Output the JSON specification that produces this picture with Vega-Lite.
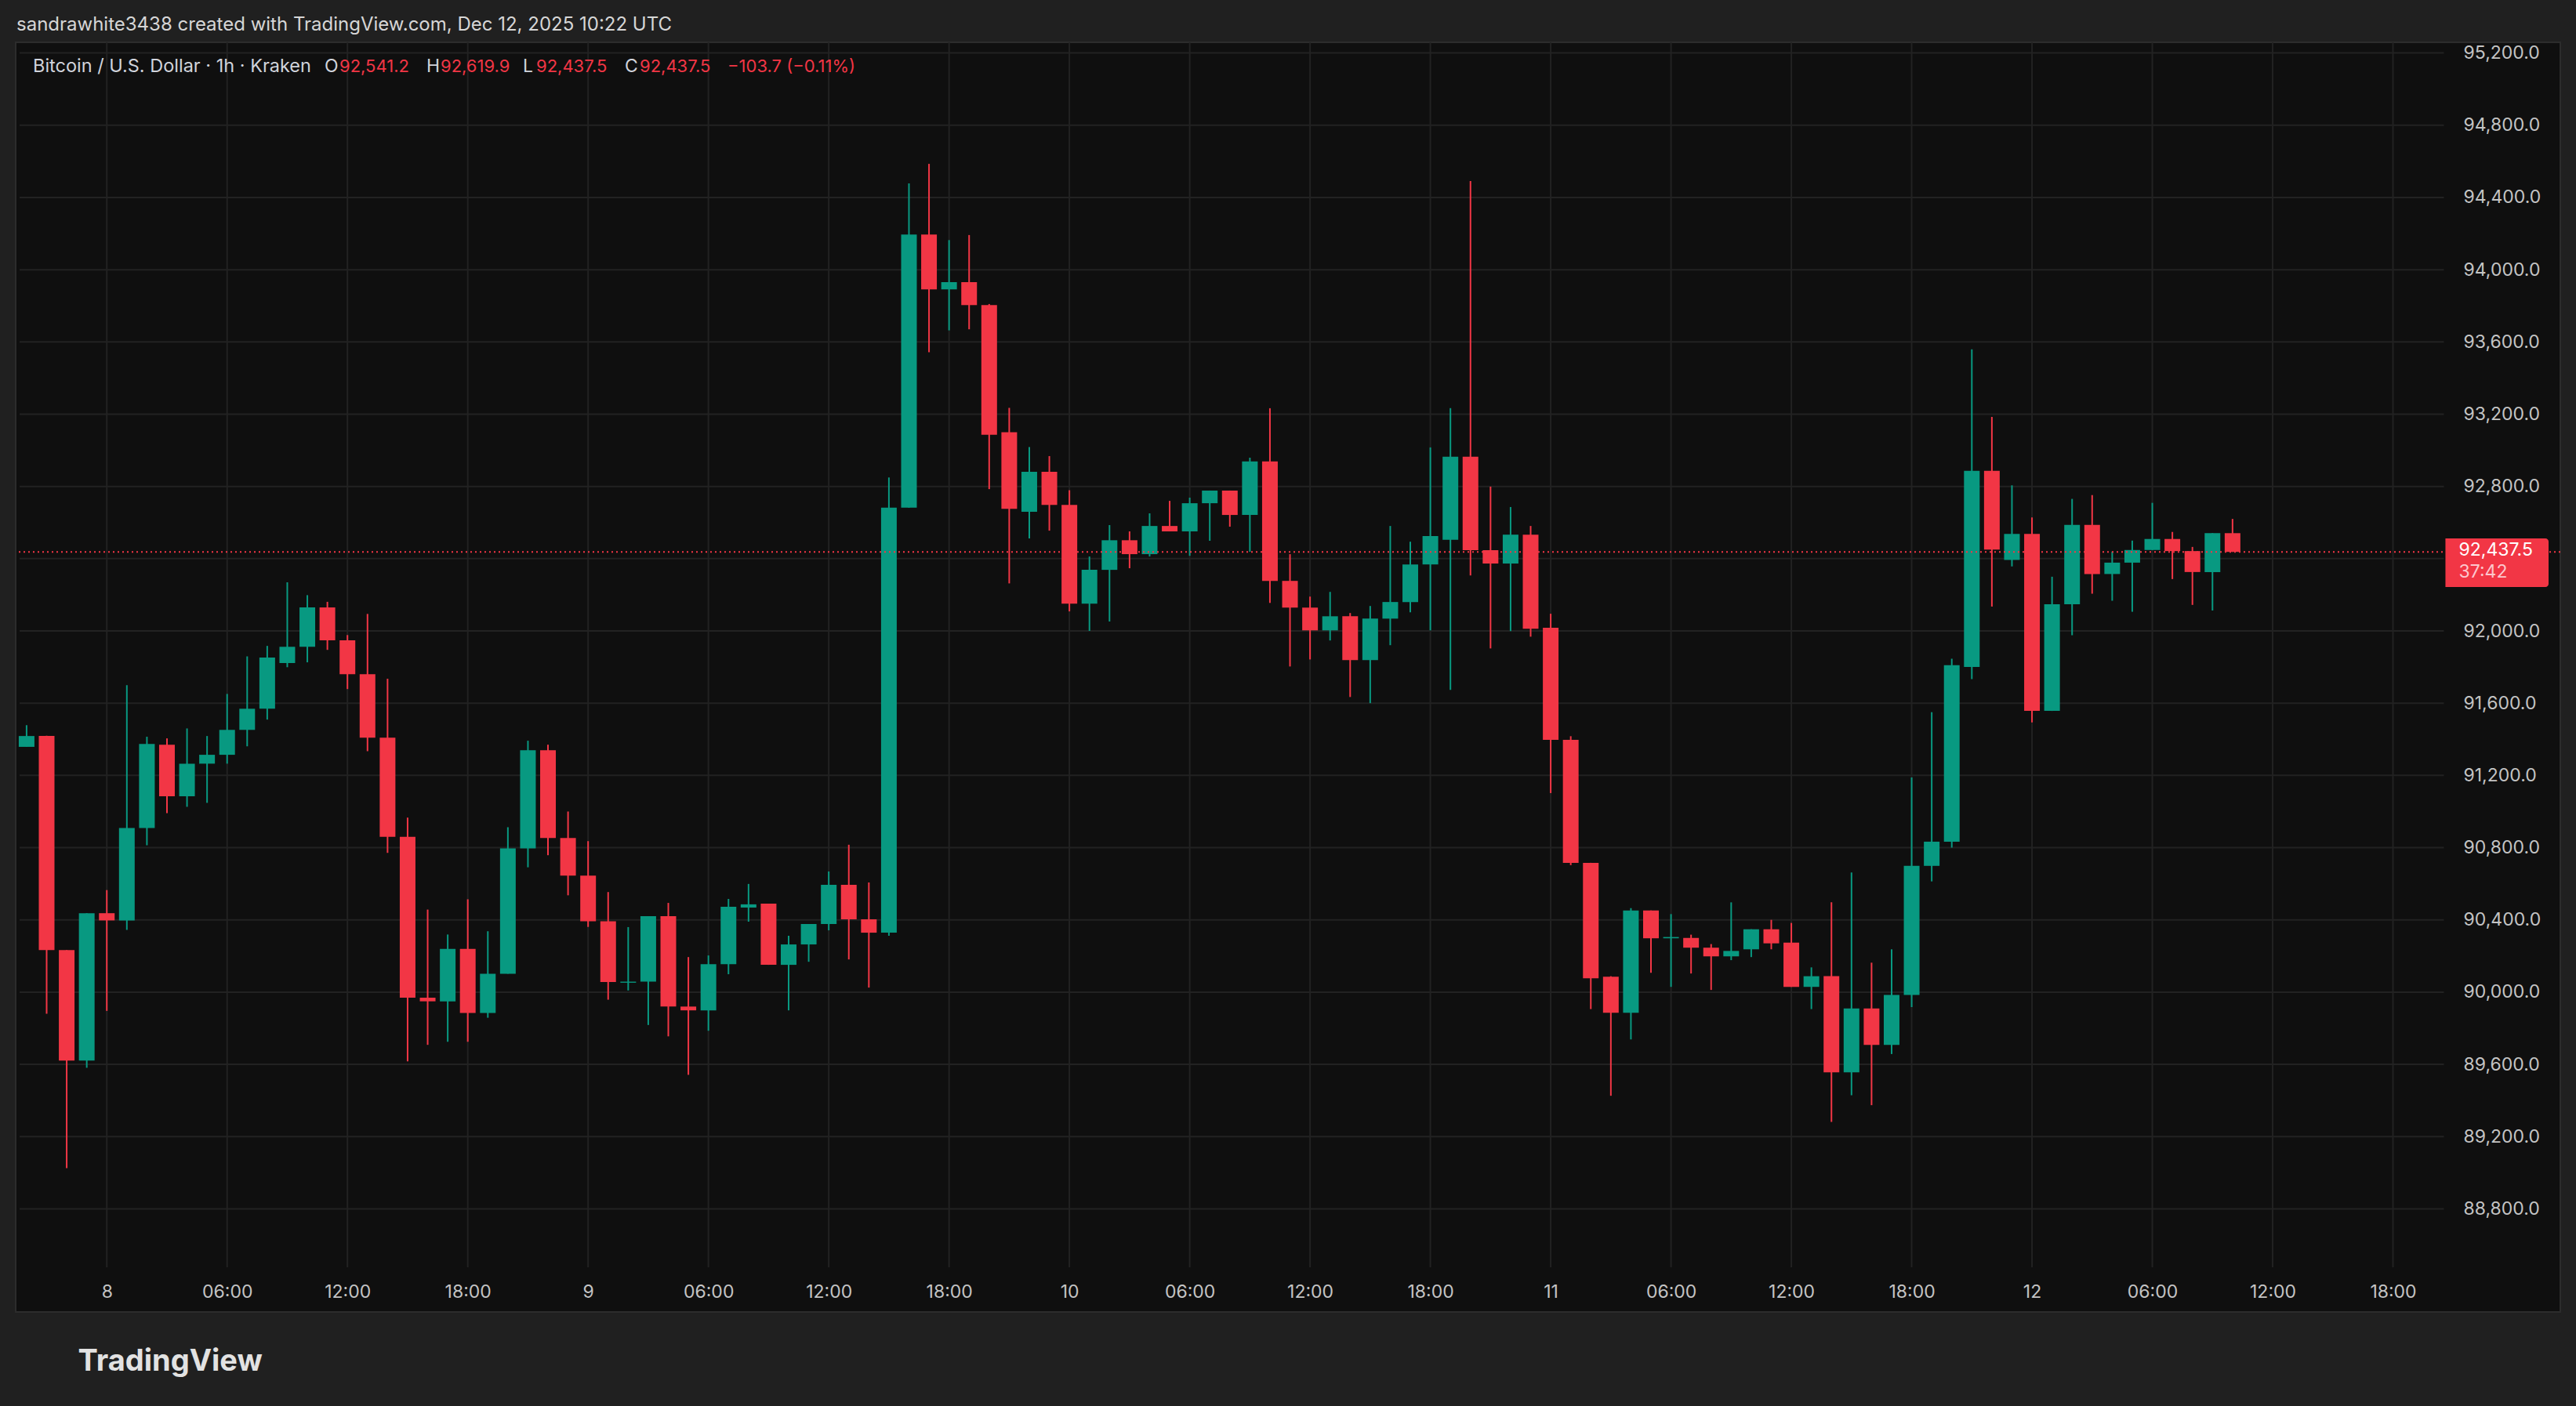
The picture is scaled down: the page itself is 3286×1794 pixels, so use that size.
{
  "$schema": "https://vega.github.io/schema/vega-lite/v6.json",
  "width": 3246,
  "height": 1620,
  "autosize": "none",
  "padding": {"left": 20, "top": 54, "right": 20, "bottom": 120},
  "background": "#202020",
  "title": {
    "text": "sandrawhite3438 created with TradingView.com, Dec 12, 2025 10:22 UTC",
    "anchor": "start",
    "frame": "group",
    "orient": "top",
    "offset": -3,
    "dx": 1,
    "font": "Inter",
    "fontSize": 24,
    "fontWeight": "normal",
    "color": "#d6d6d6",
    "baseline": "middle"
  },
  "config": {
    "view": {"fill": "#0f0f0f", "stroke": "#2c2c2c", "strokeWidth": 2},
    "text": {"font": "Inter"}
  },
  "datasets": {
    "candles": [
      {"t": "2025-12-07T20:00:00Z", "open": 91358, "high": 91478, "low": 91358, "close": 91418},
      {"t": "2025-12-07T21:00:00Z", "open": 91418, "high": 91420, "low": 89880, "close": 90233},
      {"t": "2025-12-07T22:00:00Z", "open": 90233, "high": 90233, "low": 89025, "close": 89621},
      {"t": "2025-12-07T23:00:00Z", "open": 89621, "high": 90437, "low": 89581, "close": 90437},
      {"t": "2025-12-08T00:00:00Z", "open": 90437, "high": 90565, "low": 89896, "close": 90397},
      {"t": "2025-12-08T01:00:00Z", "open": 90397, "high": 91700, "low": 90344, "close": 90909},
      {"t": "2025-12-08T02:00:00Z", "open": 90909, "high": 91414, "low": 90813, "close": 91374},
      {"t": "2025-12-08T03:00:00Z", "open": 91370, "high": 91405, "low": 90991, "close": 91084},
      {"t": "2025-12-08T04:00:00Z", "open": 91084, "high": 91460, "low": 91026, "close": 91265},
      {"t": "2025-12-08T05:00:00Z", "open": 91265, "high": 91418, "low": 91048, "close": 91314},
      {"t": "2025-12-08T06:00:00Z", "open": 91314, "high": 91651, "low": 91265, "close": 91452},
      {"t": "2025-12-08T07:00:00Z", "open": 91452, "high": 91859, "low": 91361, "close": 91569},
      {"t": "2025-12-08T08:00:00Z", "open": 91569, "high": 91917, "low": 91509, "close": 91853},
      {"t": "2025-12-08T09:00:00Z", "open": 91822, "high": 92269, "low": 91799, "close": 91912},
      {"t": "2025-12-08T10:00:00Z", "open": 91912, "high": 92198, "low": 91826, "close": 92130},
      {"t": "2025-12-08T11:00:00Z", "open": 92130, "high": 92161, "low": 91895, "close": 91948},
      {"t": "2025-12-08T12:00:00Z", "open": 91948, "high": 91977, "low": 91678, "close": 91760},
      {"t": "2025-12-08T13:00:00Z", "open": 91760, "high": 92094, "low": 91334, "close": 91409},
      {"t": "2025-12-08T14:00:00Z", "open": 91409, "high": 91735, "low": 90771, "close": 90860},
      {"t": "2025-12-08T15:00:00Z", "open": 90860, "high": 90966, "low": 89617, "close": 89969},
      {"t": "2025-12-08T16:00:00Z", "open": 89969, "high": 90457, "low": 89708, "close": 89949},
      {"t": "2025-12-08T17:00:00Z", "open": 89949, "high": 90319, "low": 89725, "close": 90239},
      {"t": "2025-12-08T18:00:00Z", "open": 90239, "high": 90514, "low": 89725, "close": 89885},
      {"t": "2025-12-08T19:00:00Z", "open": 89885, "high": 90337, "low": 89858, "close": 90102},
      {"t": "2025-12-08T20:00:00Z", "open": 90102, "high": 90913, "low": 90102, "close": 90796},
      {"t": "2025-12-08T21:00:00Z", "open": 90796, "high": 91392, "low": 90691, "close": 91339},
      {"t": "2025-12-08T22:00:00Z", "open": 91339, "high": 91370, "low": 90758, "close": 90853},
      {"t": "2025-12-08T23:00:00Z", "open": 90853, "high": 91000, "low": 90536, "close": 90645},
      {"t": "2025-12-09T00:00:00Z", "open": 90645, "high": 90836, "low": 90361, "close": 90392},
      {"t": "2025-12-09T01:00:00Z", "open": 90392, "high": 90554, "low": 89958, "close": 90056},
      {"t": "2025-12-09T02:00:00Z", "open": 90052, "high": 90360, "low": 90009, "close": 90058},
      {"t": "2025-12-09T03:00:00Z", "open": 90058, "high": 90420, "low": 89818, "close": 90420},
      {"t": "2025-12-09T04:00:00Z", "open": 90420, "high": 90494, "low": 89755, "close": 89920},
      {"t": "2025-12-09T05:00:00Z", "open": 89920, "high": 90194, "low": 89542, "close": 89899},
      {"t": "2025-12-09T06:00:00Z", "open": 89899, "high": 90203, "low": 89786, "close": 90155},
      {"t": "2025-12-09T07:00:00Z", "open": 90155, "high": 90516, "low": 90099, "close": 90473},
      {"t": "2025-12-09T08:00:00Z", "open": 90468, "high": 90599, "low": 90390, "close": 90486},
      {"t": "2025-12-09T09:00:00Z", "open": 90490, "high": 90490, "low": 90151, "close": 90151},
      {"t": "2025-12-09T10:00:00Z", "open": 90151, "high": 90312, "low": 89899, "close": 90264},
      {"t": "2025-12-09T11:00:00Z", "open": 90264, "high": 90377, "low": 90168, "close": 90377},
      {"t": "2025-12-09T12:00:00Z", "open": 90377, "high": 90668, "low": 90342, "close": 90594},
      {"t": "2025-12-09T13:00:00Z", "open": 90594, "high": 90816, "low": 90181, "close": 90403},
      {"t": "2025-12-09T14:00:00Z", "open": 90403, "high": 90607, "low": 90025, "close": 90329},
      {"t": "2025-12-09T15:00:00Z", "open": 90329, "high": 92850, "low": 90312, "close": 92682},
      {"t": "2025-12-09T16:00:00Z", "open": 92682, "high": 94478, "low": 92682, "close": 94195},
      {"t": "2025-12-09T17:00:00Z", "open": 94195, "high": 94586, "low": 93543, "close": 93891},
      {"t": "2025-12-09T18:00:00Z", "open": 93891, "high": 94164, "low": 93664, "close": 93931},
      {"t": "2025-12-09T19:00:00Z", "open": 93931, "high": 94192, "low": 93670, "close": 93804},
      {"t": "2025-12-09T20:00:00Z", "open": 93804, "high": 93810, "low": 92785, "close": 93086},
      {"t": "2025-12-09T21:00:00Z", "open": 93100, "high": 93235, "low": 92263, "close": 92676},
      {"t": "2025-12-09T22:00:00Z", "open": 92660, "high": 93018, "low": 92512, "close": 92881},
      {"t": "2025-12-09T23:00:00Z", "open": 92881, "high": 92968, "low": 92555, "close": 92698},
      {"t": "2025-12-10T00:00:00Z", "open": 92698, "high": 92779, "low": 92108, "close": 92151},
      {"t": "2025-12-10T01:00:00Z", "open": 92151, "high": 92412, "low": 92000, "close": 92338},
      {"t": "2025-12-10T02:00:00Z", "open": 92338, "high": 92586, "low": 92052, "close": 92502},
      {"t": "2025-12-10T03:00:00Z", "open": 92502, "high": 92551, "low": 92347, "close": 92425},
      {"t": "2025-12-10T04:00:00Z", "open": 92425, "high": 92651, "low": 92412, "close": 92581},
      {"t": "2025-12-10T05:00:00Z", "open": 92581, "high": 92720, "low": 92551, "close": 92551},
      {"t": "2025-12-10T06:00:00Z", "open": 92551, "high": 92738, "low": 92416, "close": 92707},
      {"t": "2025-12-10T07:00:00Z", "open": 92707, "high": 92777, "low": 92499, "close": 92777},
      {"t": "2025-12-10T08:00:00Z", "open": 92777, "high": 92777, "low": 92577, "close": 92642},
      {"t": "2025-12-10T09:00:00Z", "open": 92642, "high": 92959, "low": 92438, "close": 92938},
      {"t": "2025-12-10T10:00:00Z", "open": 92938, "high": 93233, "low": 92155, "close": 92277},
      {"t": "2025-12-10T11:00:00Z", "open": 92277, "high": 92425, "low": 91803, "close": 92129},
      {"t": "2025-12-10T12:00:00Z", "open": 92129, "high": 92190, "low": 91842, "close": 92003},
      {"t": "2025-12-10T13:00:00Z", "open": 92003, "high": 92216, "low": 91947, "close": 92081},
      {"t": "2025-12-10T14:00:00Z", "open": 92081, "high": 92099, "low": 91634, "close": 91838},
      {"t": "2025-12-10T15:00:00Z", "open": 91838, "high": 92138, "low": 91600, "close": 92068},
      {"t": "2025-12-10T16:00:00Z", "open": 92068, "high": 92581, "low": 91921, "close": 92160},
      {"t": "2025-12-10T17:00:00Z", "open": 92160, "high": 92494, "low": 92103, "close": 92368},
      {"t": "2025-12-10T18:00:00Z", "open": 92368, "high": 93016, "low": 92003, "close": 92525},
      {"t": "2025-12-10T19:00:00Z", "open": 92505, "high": 93233, "low": 91673, "close": 92964},
      {"t": "2025-12-10T20:00:00Z", "open": 92964, "high": 94491, "low": 92307, "close": 92447},
      {"t": "2025-12-10T21:00:00Z", "open": 92447, "high": 92799, "low": 91903, "close": 92373},
      {"t": "2025-12-10T22:00:00Z", "open": 92373, "high": 92686, "low": 91999, "close": 92533},
      {"t": "2025-12-10T23:00:00Z", "open": 92533, "high": 92581, "low": 91968, "close": 92012},
      {"t": "2025-12-11T00:00:00Z", "open": 92017, "high": 92095, "low": 91102, "close": 91397},
      {"t": "2025-12-11T01:00:00Z", "open": 91397, "high": 91417, "low": 90703, "close": 90716},
      {"t": "2025-12-11T02:00:00Z", "open": 90716, "high": 90716, "low": 89906, "close": 90077},
      {"t": "2025-12-11T03:00:00Z", "open": 90085, "high": 90088, "low": 89426, "close": 89886},
      {"t": "2025-12-11T04:00:00Z", "open": 89886, "high": 90465, "low": 89738, "close": 90452},
      {"t": "2025-12-11T05:00:00Z", "open": 90452, "high": 90452, "low": 90107, "close": 90298},
      {"t": "2025-12-11T06:00:00Z", "open": 90298, "high": 90432, "low": 90029, "close": 90305},
      {"t": "2025-12-11T07:00:00Z", "open": 90300, "high": 90318, "low": 90103, "close": 90246},
      {"t": "2025-12-11T08:00:00Z", "open": 90246, "high": 90266, "low": 90012, "close": 90198},
      {"t": "2025-12-11T09:00:00Z", "open": 90198, "high": 90497, "low": 90177, "close": 90228},
      {"t": "2025-12-11T10:00:00Z", "open": 90237, "high": 90348, "low": 90194, "close": 90348},
      {"t": "2025-12-11T11:00:00Z", "open": 90348, "high": 90400, "low": 90237, "close": 90270},
      {"t": "2025-12-11T12:00:00Z", "open": 90274, "high": 90383, "low": 90029, "close": 90029},
      {"t": "2025-12-11T13:00:00Z", "open": 90029, "high": 90137, "low": 89906, "close": 90088},
      {"t": "2025-12-11T14:00:00Z", "open": 90088, "high": 90497, "low": 89281, "close": 89556},
      {"t": "2025-12-11T15:00:00Z", "open": 89556, "high": 90662, "low": 89429, "close": 89910},
      {"t": "2025-12-11T16:00:00Z", "open": 89910, "high": 90163, "low": 89374, "close": 89708},
      {"t": "2025-12-11T17:00:00Z", "open": 89708, "high": 90237, "low": 89657, "close": 89984},
      {"t": "2025-12-11T18:00:00Z", "open": 89984, "high": 91189, "low": 89917, "close": 90699},
      {"t": "2025-12-11T19:00:00Z", "open": 90699, "high": 91550, "low": 90613, "close": 90833},
      {"t": "2025-12-11T20:00:00Z", "open": 90833, "high": 91846, "low": 90800, "close": 91810},
      {"t": "2025-12-11T21:00:00Z", "open": 91800, "high": 93559, "low": 91733, "close": 92886},
      {"t": "2025-12-11T22:00:00Z", "open": 92886, "high": 93185, "low": 92135, "close": 92450},
      {"t": "2025-12-11T23:00:00Z", "open": 92393, "high": 92806, "low": 92357, "close": 92537},
      {"t": "2025-12-12T00:00:00Z", "open": 92537, "high": 92628, "low": 91493, "close": 91557},
      {"t": "2025-12-12T01:00:00Z", "open": 91557, "high": 92300, "low": 91557, "close": 92148},
      {"t": "2025-12-12T02:00:00Z", "open": 92148, "high": 92731, "low": 91976, "close": 92587},
      {"t": "2025-12-12T03:00:00Z", "open": 92587, "high": 92752, "low": 92206, "close": 92315},
      {"t": "2025-12-12T04:00:00Z", "open": 92315, "high": 92439, "low": 92167, "close": 92378},
      {"t": "2025-12-12T05:00:00Z", "open": 92378, "high": 92500, "low": 92106, "close": 92448},
      {"t": "2025-12-12T06:00:00Z", "open": 92448, "high": 92709, "low": 92448, "close": 92509},
      {"t": "2025-12-12T07:00:00Z", "open": 92509, "high": 92548, "low": 92287, "close": 92442},
      {"t": "2025-12-12T08:00:00Z", "open": 92442, "high": 92465, "low": 92144, "close": 92326},
      {"t": "2025-12-12T09:00:00Z", "open": 92326, "high": 92541.2, "low": 92113, "close": 92541.2},
      {"t": "2025-12-12T10:00:00Z", "open": 92541.2, "high": 92619.9, "low": 92437.5, "close": 92437.5}
    ],
    "vgrid": [
      {"t": "2025-12-08T00:00:00Z"}, {"t": "2025-12-08T06:00:00Z"}, {"t": "2025-12-08T12:00:00Z"}, {"t": "2025-12-08T18:00:00Z"},
      {"t": "2025-12-09T00:00:00Z"}, {"t": "2025-12-09T06:00:00Z"}, {"t": "2025-12-09T12:00:00Z"}, {"t": "2025-12-09T18:00:00Z"},
      {"t": "2025-12-10T00:00:00Z"}, {"t": "2025-12-10T06:00:00Z"}, {"t": "2025-12-10T12:00:00Z"}, {"t": "2025-12-10T18:00:00Z"},
      {"t": "2025-12-11T00:00:00Z"}, {"t": "2025-12-11T06:00:00Z"}, {"t": "2025-12-11T12:00:00Z"}, {"t": "2025-12-11T18:00:00Z"},
      {"t": "2025-12-12T00:00:00Z"}, {"t": "2025-12-12T06:00:00Z"}, {"t": "2025-12-12T12:00:00Z"}, {"t": "2025-12-12T18:00:00Z"}
    ],
    "hgrid": [
      {"p": 88800}, {"p": 89200}, {"p": 89600}, {"p": 90000}, {"p": 90400}, {"p": 90800}, {"p": 91200}, {"p": 91600},
      {"p": 92000}, {"p": 92400}, {"p": 92800}, {"p": 93200}, {"p": 93600}, {"p": 94000}, {"p": 94400}, {"p": 94800}, {"p": 95200}
    ]
  },
  "layer": [
    {
      "data": {"name": "vgrid"},
      "mark": {"type": "rule", "color": "#222222", "strokeWidth": 2},
      "encoding": {
        "x": {
          "field": "t",
          "type": "temporal",
          "scale": {
            "type": "utc",
            "domain": [
              {"year": 2025, "month": 12, "date": 7, "hours": 19, "minutes": 39, "seconds": 6, "utc": true},
              {"year": 2025, "month": 12, "date": 13, "hours": 2, "minutes": 9, "utc": true}
            ]
          },
          "axis": {
            "orient": "bottom",
            "offset": -57,
            "values": [
              {"year": 2025, "month": 12, "date": 8, "hours": 0, "utc": true},
              {"year": 2025, "month": 12, "date": 8, "hours": 6, "utc": true},
              {"year": 2025, "month": 12, "date": 8, "hours": 12, "utc": true},
              {"year": 2025, "month": 12, "date": 8, "hours": 18, "utc": true},
              {"year": 2025, "month": 12, "date": 9, "hours": 0, "utc": true},
              {"year": 2025, "month": 12, "date": 9, "hours": 6, "utc": true},
              {"year": 2025, "month": 12, "date": 9, "hours": 12, "utc": true},
              {"year": 2025, "month": 12, "date": 9, "hours": 18, "utc": true},
              {"year": 2025, "month": 12, "date": 10, "hours": 0, "utc": true},
              {"year": 2025, "month": 12, "date": 10, "hours": 6, "utc": true},
              {"year": 2025, "month": 12, "date": 10, "hours": 12, "utc": true},
              {"year": 2025, "month": 12, "date": 10, "hours": 18, "utc": true},
              {"year": 2025, "month": 12, "date": 11, "hours": 0, "utc": true},
              {"year": 2025, "month": 12, "date": 11, "hours": 6, "utc": true},
              {"year": 2025, "month": 12, "date": 11, "hours": 12, "utc": true},
              {"year": 2025, "month": 12, "date": 11, "hours": 18, "utc": true},
              {"year": 2025, "month": 12, "date": 12, "hours": 0, "utc": true},
              {"year": 2025, "month": 12, "date": 12, "hours": 6, "utc": true},
              {"year": 2025, "month": 12, "date": 12, "hours": 12, "utc": true},
              {"year": 2025, "month": 12, "date": 12, "hours": 18, "utc": true}
            ],
            "labelExpr": "utchours(datum.value) == 0 ? '' + utcdate(datum.value) : utcFormat(datum.value, '%H:%M')",
            "grid": false,
            "domain": false,
            "ticks": false,
            "tickSize": 0,
            "labelPadding": 31,
            "labelBaseline": "middle",
            "labelFont": "Inter",
            "labelFontSize": 23,
            "labelColor": "#c4c4c4",
            "labelFlush": false,
            "labelOverlap": false,
            "title": "TradingView",
            "titleFont": "Inter",
            "titleFontSize": 38,
            "titleFontWeight": "bold",
            "titleColor": "#e2e2e2",
            "titleAlign": "left",
            "titleBaseline": "middle",
            "titleX": 79,
            "titleY": 120
          }
        },
        "y": {"datum": 95259, "type": "quantitative",
          "scale": {"domain": [88229, 95259], "nice": false, "zero": false},
          "axis": {
            "orient": "right",
            "offset": -144,
            "values": [88800, 89200, 89600, 90000, 90400, 90800, 91200, 91600, 92000, 92800, 93200, 93600, 94000, 94400, 94800, 95200],
            "format": ",.1f",
            "grid": false,
            "domain": false,
            "ticks": false,
            "tickSize": 0,
            "labelPadding": 20,
            "labelFont": "Inter",
            "labelFontSize": 23,
            "labelColor": "#c4c4c4",
            "labelOverlap": false,
            "labelFlush": false,
            "title": null
          }
        },
        "y2": {"datum": 88476}
      }
    },
    {
      "data": {"name": "hgrid"},
      "mark": {"type": "rule", "color": "#222222", "strokeWidth": 2},
      "encoding": {
        "y": {"field": "p", "type": "quantitative"},
        "x": {"datum": {"year": 2025, "month": 12, "date": 7, "hours": 19, "minutes": 39, "seconds": 6, "utc": true}, "type": "temporal"},
        "x2": {"datum": {"year": 2025, "month": 12, "date": 12, "hours": 20, "minutes": 32, "seconds": 24, "utc": true}}
      }
    },
    {
      "data": {"name": "candles"},
      "mark": {"type": "rule", "strokeWidth": 2},
      "encoding": {
        "x": {"field": "t", "type": "temporal"},
        "y": {"field": "low", "type": "quantitative"},
        "y2": {"field": "high"},
        "color": {"condition": {"test": "datum.close >= datum.open", "value": "#089981"}, "value": "#f23645"}
      }
    },
    {
      "data": {"name": "candles"},
      "mark": {"type": "bar", "width": 20},
      "encoding": {
        "x": {"field": "t", "type": "temporal"},
        "y": {"field": "open", "type": "quantitative"},
        "y2": {"field": "close"},
        "color": {"condition": {"test": "datum.close >= datum.open", "value": "#089981"}, "value": "#f23645"}
      }
    },
    {
      "data": {"name": "candles"},
      "transform": [{"filter": "datum.open == 92541.2"}],
      "layer": [
        {
          "mark": {"type": "rule", "color": "#f23645", "strokeWidth": 2, "strokeDash": [2, 4]},
          "encoding": {"y": {"field": "close", "type": "quantitative"}}
        },
        {
          "mark": {"type": "rect", "color": "#f23645", "cornerRadiusTopRight": 4, "cornerRadiusBottomRight": 4},
          "encoding": {
            "x": {"datum": {"year": 2025, "month": 12, "date": 12, "hours": 20, "minutes": 37, "utc": true}, "type": "temporal"},
            "x2": {"datum": {"year": 2025, "month": 12, "date": 13, "hours": 1, "minutes": 45, "seconds": 36, "utc": true}},
            "y": {"datum": 92512, "type": "quantitative"},
            "y2": {"datum": 92243}
          }
        },
        {
          "encoding": {
            "x": {"datum": {"year": 2025, "month": 12, "date": 12, "hours": 20, "minutes": 32, "seconds": 24, "utc": true}, "type": "temporal"},
            "y": {"field": "close", "type": "quantitative"}
          },
          "layer": [
            {
              "mark": {"type": "text", "align": "left", "baseline": "middle", "dx": 19, "dy": -2, "fontSize": 23, "font": "Inter", "color": "#ffffff"},
              "encoding": {"text": {"field": "close", "type": "quantitative", "format": ",.1f"}}
            },
            {
              "mark": {"type": "text", "align": "left", "baseline": "middle", "dx": 19, "dy": 26, "fontSize": 23, "font": "Inter", "color": "#fcc7cd", "text": "37:42"}
            }
          ]
        },
        {
          "encoding": {
            "x": {"datum": {"year": 2025, "month": 12, "date": 7, "hours": 19, "minutes": 39, "seconds": 6, "utc": true}, "type": "temporal"},
            "y": {"datum": 95124, "type": "quantitative"}
          },
          "layer": [
            {"mark": {"type": "text", "align": "left", "baseline": "middle", "dx": 17, "fontSize": 23.5, "font": "Inter", "color": "#d1d4dc", "text": "Bitcoin / U.S. Dollar · 1h · Kraken"}},
            {"mark": {"type": "text", "align": "left", "baseline": "middle", "dx": 389, "fontSize": 23, "font": "Inter", "color": "#d1d4dc", "text": "O"}},
            {"mark": {"type": "text", "align": "left", "baseline": "middle", "dx": 408, "fontSize": 22, "font": "Inter", "color": "#f23645"},
             "encoding": {"text": {"field": "open", "type": "quantitative", "format": ",.1f"}}},
            {"mark": {"type": "text", "align": "left", "baseline": "middle", "dx": 519, "fontSize": 23, "font": "Inter", "color": "#d1d4dc", "text": "H"}},
            {"mark": {"type": "text", "align": "left", "baseline": "middle", "dx": 537, "fontSize": 22, "font": "Inter", "color": "#f23645"},
             "encoding": {"text": {"field": "high", "type": "quantitative", "format": ",.1f"}}},
            {"mark": {"type": "text", "align": "left", "baseline": "middle", "dx": 642, "fontSize": 23, "font": "Inter", "color": "#d1d4dc", "text": "L"}},
            {"mark": {"type": "text", "align": "left", "baseline": "middle", "dx": 659, "fontSize": 22, "font": "Inter", "color": "#f23645"},
             "encoding": {"text": {"field": "low", "type": "quantitative", "format": ",.1f"}}},
            {"mark": {"type": "text", "align": "left", "baseline": "middle", "dx": 772, "fontSize": 23, "font": "Inter", "color": "#d1d4dc", "text": "C"}},
            {"mark": {"type": "text", "align": "left", "baseline": "middle", "dx": 791, "fontSize": 22, "font": "Inter", "color": "#f23645"},
             "encoding": {"text": {"field": "close", "type": "quantitative", "format": ",.1f"}}},
            {"mark": {"type": "text", "align": "left", "baseline": "middle", "dx": 903, "fontSize": 22, "font": "Inter", "color": "#f23645", "text": "−103.7 (−0.11%)"}}
          ]
        }
      ]
    }
  ]
}
